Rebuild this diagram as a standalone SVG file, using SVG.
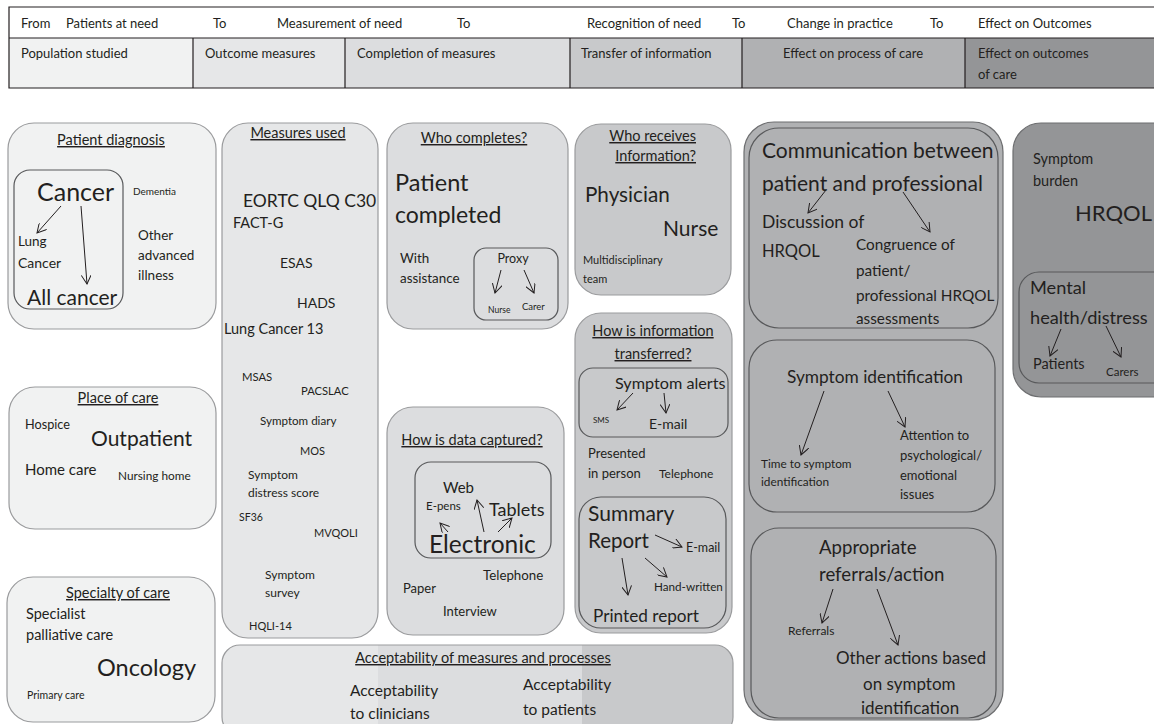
<svg xmlns="http://www.w3.org/2000/svg" width="1154" height="724" viewBox="0 0 1154 724">
<defs>
<marker id="ah" viewBox="0 0 10 10" refX="9" refY="5" markerWidth="10" markerHeight="10" markerUnits="userSpaceOnUse" orient="auto">
<path d="M0,0 L9,5 L0,10" fill="none" stroke="#231f20" stroke-width="1"/>
</marker>
<clipPath id="acc"><rect x="222" y="645" width="511" height="90" rx="18"/></clipPath>
</defs>
<style>
text{font-family:Lato,"Liberation Sans",sans-serif;fill:#231f20}
.u{text-decoration:underline}
.m{text-anchor:middle}
.e{text-anchor:end}
.ob{stroke:#9a9b9d;stroke-width:1.2}
.ob2{stroke:#6d6e70;stroke-width:1.2}
.ib{fill:none;stroke:#58595b;stroke-width:1.2}
.c1{fill:#f1f2f2}.c2{fill:#e6e7e8}.c3{fill:#dcdddf}.c4{fill:#c8c9cb}.c5{fill:#b0b1b3}.c6{fill:#949597}
.hl{stroke:#231f20;stroke-width:1.2;fill:none}
.cn line{stroke:#231f20;stroke-width:1;marker-end:url(#ah)}
.ti{font-size:14.5px}
</style>
<rect width="1154" height="724" fill="#fff"/>

<g id="header">
<rect x="9" y="38" width="184" height="50" class="c1"/>
<rect x="193" y="38" width="152" height="50" class="c2"/>
<rect x="345" y="38" width="225" height="50" class="c3"/>
<rect x="570" y="38" width="172" height="50" class="c4"/>
<rect x="742" y="38" width="223" height="50" class="c5"/>
<rect x="965" y="38" width="189" height="50" class="c6"/>
<path class="hl" d="M1154,7 H9 V88 H1154 M9,38 H1154 M193,38 V88 M345,38 V88 M570,38 V88 M742,38 V88 M965,38 V88"/>
<g font-size="13">
<text x="21" y="28">From</text>
<text x="66" y="28">Patients at need</text>
<text x="213" y="28">To</text>
<text x="277" y="28">Measurement of need</text>
<text x="457" y="28">To</text>
<text x="587" y="28">Recognition of need</text>
<text x="732" y="28">To</text>
<text x="787" y="28">Change in practice</text>
<text x="930" y="28">To</text>
<text x="978" y="28">Effect on Outcomes</text>
<text x="21" y="58">Population studied</text>
<text x="205" y="58">Outcome measures</text>
<text x="357" y="58">Completion of measures</text>
<text x="581" y="58">Transfer of information</text>
<text x="853" y="58" class="m">Effect on process of care</text>
<text x="978" y="58">Effect on outcomes</text>
<text x="978" y="79">of care</text>
</g>
</g>

<g id="patient-diagnosis">
<rect x="8" y="123" width="208" height="206" rx="26" class="c1 ob"/>
<text x="111" y="145" class="ti m u">Patient diagnosis</text>
<rect x="14" y="170" width="109" height="139" rx="16" class="ib"/>
<text x="37" y="201" font-size="25">Cancer</text>
<text x="18" y="246" font-size="13.5">Lung</text>
<text x="18" y="268" font-size="14">Cancer</text>
<text x="27" y="305" font-size="21">All cancer</text>
<text x="133" y="195" font-size="10">Dementia</text>
<text x="138" y="240" font-size="13.5">Other</text>
<text x="138" y="260" font-size="13.5">advanced</text>
<text x="138" y="280" font-size="13.5">illness</text>
</g>

<g id="place-of-care">
<rect x="9" y="387" width="207" height="142" rx="26" class="c1 ob"/>
<text x="118" y="403" class="ti m u">Place of care</text>
<text x="25" y="429" font-size="12.7">Hospice</text>
<text x="91" y="446" font-size="21">Outpatient</text>
<text x="25" y="475" font-size="15">Home care</text>
<text x="118" y="480" font-size="11.8">Nursing home</text>
</g>

<g id="specialty-of-care">
<rect x="7" y="577" width="208" height="145" rx="26" class="c1 ob"/>
<text x="118" y="598" class="ti m u">Specialty of care</text>
<text x="26" y="619" font-size="14.5">Specialist</text>
<text x="26" y="640" font-size="14.5">palliative care</text>
<text x="97" y="676" font-size="23.5">Oncology</text>
<text x="27" y="699" font-size="10.5">Primary care</text>
</g>

<g id="measures-used">
<rect x="222" y="123" width="156" height="515" rx="26" class="c2 ob"/>
<text x="298" y="138" class="ti m u">Measures used</text>
<text x="243" y="207" font-size="17.5">EORTC QLQ C30</text>
<text x="233" y="228" font-size="14.5">FACT-G</text>
<text x="280" y="268" font-size="14">ESAS</text>
<text x="297" y="308" font-size="14">HADS</text>
<text x="224" y="334" font-size="14.5">Lung Cancer 13</text>
<text x="242" y="381" font-size="11.3">MSAS</text>
<text x="301" y="395" font-size="11.2">PACSLAC</text>
<text x="260" y="425" font-size="11.6">Symptom diary</text>
<text x="300" y="455" font-size="11">MOS</text>
<text x="248" y="479" font-size="12">Symptom</text>
<text x="248" y="497" font-size="12">distress score</text>
<text x="239" y="521" font-size="10.5">SF36</text>
<text x="314" y="537" font-size="11">MVQOLI</text>
<text x="265" y="579" font-size="12">Symptom</text>
<text x="265" y="597" font-size="12">survey</text>
<text x="249" y="630" font-size="11">HQLI-14</text>
</g>

<g id="who-completes">
<rect x="387" y="123" width="181" height="206" rx="26" class="c3 ob"/>
<text x="474" y="143" class="ti m u">Who completes?</text>
<text x="395" y="191" font-size="23.5">Patient</text>
<text x="395" y="223" font-size="23">completed</text>
<text x="400" y="263" font-size="13.4">With</text>
<text x="400" y="283" font-size="13.4">assistance</text>
<rect x="474" y="248" width="84" height="72" rx="12" class="ib"/>
<text x="513" y="263" font-size="12.5" class="m">Proxy</text>
<text x="488" y="313" font-size="8.5">Nurse</text>
<text x="522" y="310" font-size="9.5">Carer</text>
</g>

<g id="data-captured">
<rect x="387" y="407" width="177" height="228" rx="26" class="c3 ob"/>
<text x="472" y="445" class="ti m u">How is data captured?</text>
<rect x="415" y="462" width="136" height="96" rx="16" class="ib"/>
<text x="443" y="493" font-size="15">Web</text>
<text x="426" y="510" font-size="11.5">E-pens</text>
<text x="489" y="516" font-size="18">Tablets</text>
<text x="429" y="553" font-size="24.5">Electronic</text>
<text x="483" y="580" font-size="13.3">Telephone</text>
<text x="403" y="593" font-size="13">Paper</text>
<text x="443" y="616" font-size="13">Interview</text>
</g>

<g id="who-receives">
<rect x="575" y="124" width="156" height="171" rx="26" class="c4 ob"/>
<text x="696" y="141" class="ti e u">Who receives</text>
<text x="696" y="161" class="ti e u">Information?</text>
<text x="585" y="202" font-size="20.7">Physician</text>
<text x="663" y="236" font-size="21">Nurse</text>
<text x="583" y="264" font-size="11">Multidisciplinary</text>
<text x="583" y="283" font-size="11">team</text>
</g>

<g id="info-transferred">
<rect x="575" y="313" width="157" height="320" rx="26" class="c4 ob"/>
<text x="653" y="336" class="ti m u">How is information</text>
<text x="653" y="359" class="ti m u">transferred?</text>
<rect x="579" y="368" width="149" height="69" rx="14" class="ib"/>
<text x="615" y="389" font-size="16.2">Symptom alerts</text>
<text x="593" y="423" font-size="8">SMS</text>
<text x="649" y="429" font-size="14">E-mail</text>
<text x="588" y="458" font-size="13">Presented</text>
<text x="588" y="478" font-size="13">in person</text>
<text x="659" y="478" font-size="12">Telephone</text>
<rect x="579" y="497" width="147" height="131" rx="22" class="ib"/>
<text x="588" y="521" font-size="21">Summary</text>
<text x="588" y="548" font-size="20.5">Report</text>
<text x="686" y="552" font-size="12.5">E-mail</text>
<text x="654" y="591" font-size="11.7">Hand-written</text>
<text x="593" y="622" font-size="17.2">Printed report</text>
</g>

<g id="acceptability">
<g clip-path="url(#acc)">
<rect x="222" y="645" width="156" height="90" class="c2"/>
<rect x="378" y="645" width="204" height="90" class="c3"/>
<rect x="582" y="645" width="151" height="90" class="c4"/>
</g>
<rect x="222" y="645" width="511" height="90" rx="18" fill="none" class="ob"/>
<text x="483" y="663" class="ti m u">Acceptability of measures and processes</text>
<text x="350" y="696" font-size="15.5">Acceptability</text>
<text x="350" y="719" font-size="15.5">to clinicians</text>
<text x="523" y="690" font-size="15.5">Acceptability</text>
<text x="523" y="715" font-size="15.5">to patients</text>
</g>

<g id="process-of-care">
<rect x="744" y="122" width="259" height="598" rx="30" class="c5 ob2"/>
<rect x="749" y="128" width="249" height="200" rx="30" class="ib"/>
<text x="762" y="158" font-size="21">Communication between</text>
<text x="762" y="191" font-size="21">patient and professional</text>
<text x="762" y="228" font-size="17.5">Discussion of</text>
<text x="762" y="257" font-size="16.5">HRQOL</text>
<text x="856" y="250" font-size="15.3">Congruence of</text>
<text x="856" y="276" font-size="15.3">patient/</text>
<text x="856" y="301" font-size="15.3">professional HRQOL</text>
<text x="856" y="324" font-size="15.3">assessments</text>
<rect x="749" y="340" width="246" height="172" rx="28" class="ib"/>
<text x="875" y="383" font-size="17.3" class="m">Symptom identification</text>
<text x="761" y="468" font-size="11.8">Time to symptom</text>
<text x="761" y="486" font-size="11.8">identification</text>
<text x="900" y="440" font-size="13">Attention to</text>
<text x="900" y="460" font-size="13">psychological/</text>
<text x="900" y="480" font-size="13">emotional</text>
<text x="900" y="499" font-size="13">issues</text>
<rect x="751" y="528" width="245" height="190" rx="28" class="ib"/>
<text x="819" y="554" font-size="18.6">Appropriate</text>
<text x="819" y="581" font-size="18.6">referrals/action</text>
<text x="788" y="635" font-size="12">Referrals</text>
<text x="836" y="664" font-size="17">Other actions based</text>
<text x="863" y="690" font-size="17">on symptom</text>
<text x="861" y="714" font-size="17">identification</text>
</g>

<g id="outcomes-of-care">
<rect x="1013" y="123" width="170" height="274" rx="28" class="c6 ob2"/>
<text x="1033" y="164" font-size="14.5">Symptom</text>
<text x="1033" y="186" font-size="14.5">burden</text>
<text x="1075" y="221" font-size="22">HRQOL</text>
<rect x="1019" y="272" width="160" height="111" rx="20" class="ib"/>
<text x="1030" y="294" font-size="18.2">Mental</text>
<text x="1030" y="324" font-size="18.2">health/distress</text>
<text x="1033" y="369" font-size="14.5">Patients</text>
<text x="1106" y="376" font-size="11.5">Carers</text>
</g>

<g id="connectors" class="cn">
<line x1="61" y1="206" x2="37" y2="233"/>
<line x1="81" y1="206" x2="87" y2="284"/>
<line x1="501" y1="270" x2="495" y2="293"/>
<line x1="524" y1="270" x2="534" y2="293"/>
<line x1="448" y1="532" x2="440" y2="523"/>
<line x1="484" y1="532" x2="477" y2="500"/>
<line x1="498" y1="532" x2="512" y2="518"/>
<line x1="633" y1="393" x2="617" y2="410"/>
<line x1="664" y1="393" x2="666" y2="413"/>
<line x1="655" y1="535" x2="682" y2="547"/>
<line x1="645" y1="558" x2="667" y2="577"/>
<line x1="622" y1="558" x2="628" y2="595"/>
<line x1="826" y1="190" x2="808" y2="213"/>
<line x1="903" y1="192" x2="930" y2="232"/>
<line x1="824" y1="391" x2="801" y2="455"/>
<line x1="888" y1="391" x2="905" y2="427"/>
<line x1="833" y1="589" x2="822" y2="623"/>
<line x1="877" y1="589" x2="898" y2="645"/>
<line x1="1061" y1="329" x2="1050" y2="356"/>
<line x1="1106" y1="326" x2="1121" y2="357"/>
</g>
</svg>
